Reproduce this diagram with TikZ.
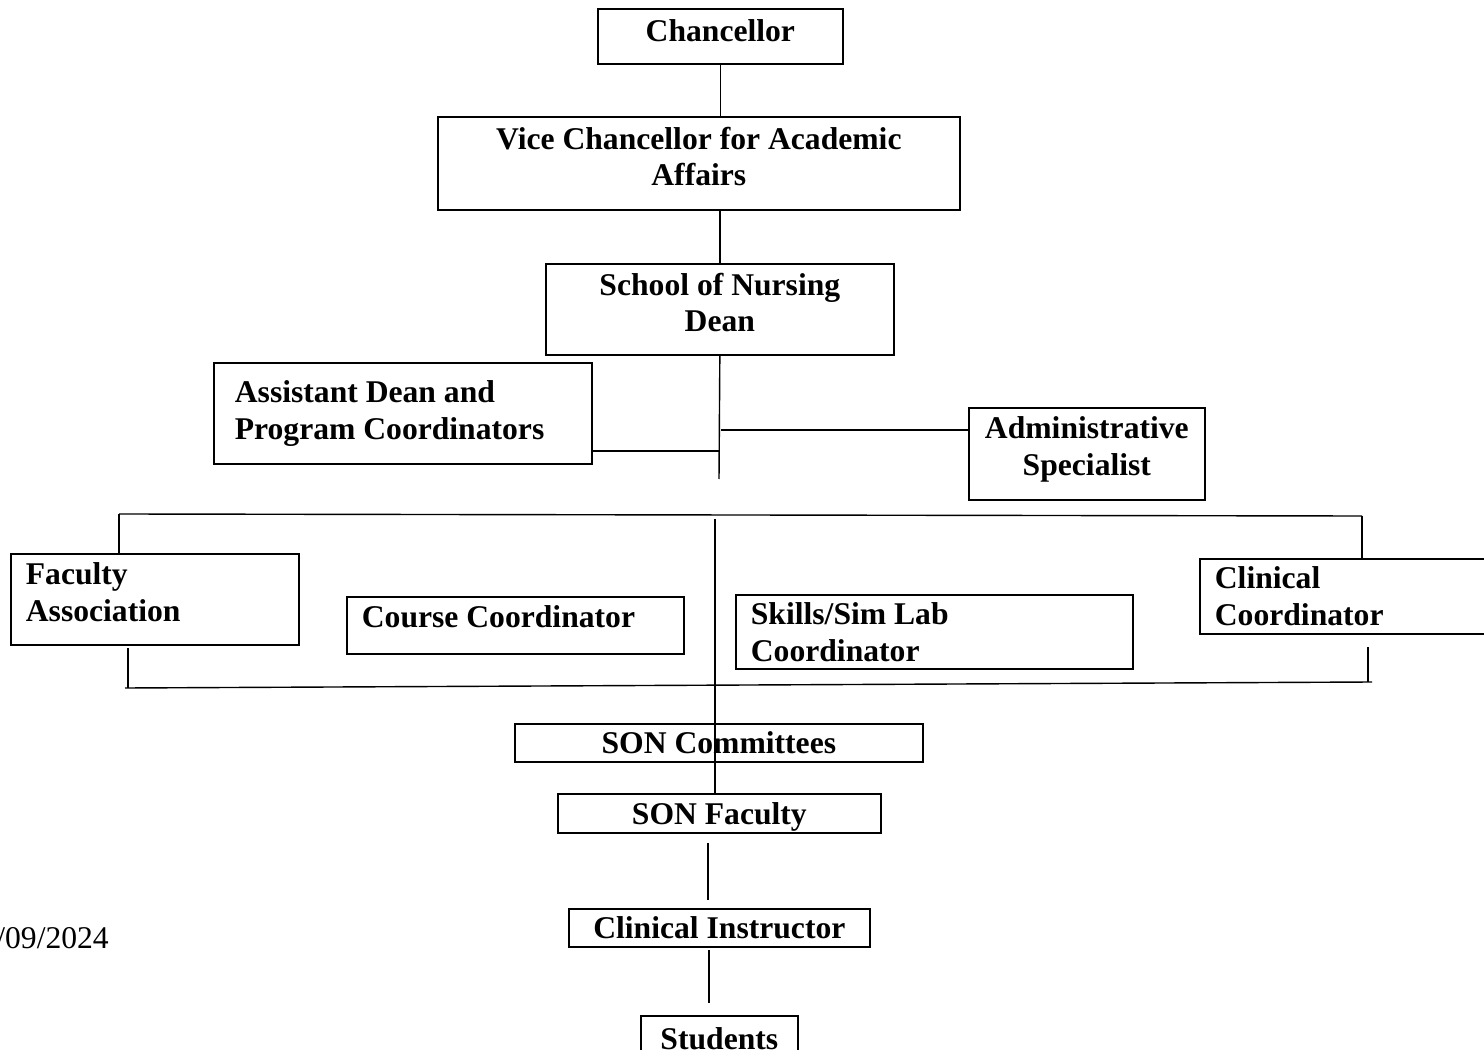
\documentclass[tikz,border=0pt]{standalone}
\usepackage{fontspec}
\setmainfont{Liberation Serif}

\begin{document}
\begin{tikzpicture}[
        x=0.02cm, y=-0.02cm,
        box/.style={draw, line width=1pt, anchor=north west, inner sep=0pt,
            font=\fontsize{18}{21}\selectfont\bfseries, align=center},
        lbox/.style={box, align=flush left, inner xsep=0.3cm},
        link/.style={line width=0.8pt},
    ]

    \useasboundingbox (0,0) rectangle (1484,1050);

    % upper chain
    \node[box, minimum width=4.9cm, minimum height=1.1cm, text depth=0.24cm] (chancellor) at (597,8) {Chancellor};
    \node[box, minimum width=10.44cm, minimum height=1.86cm, text depth=0.28cm] (vice) at (437,116) {Vice Chancellor for Academic\\Affairs};
    \node[box, minimum width=6.96cm, minimum height=1.82cm, text depth=0.28cm] (dean) at (545,263) {School of Nursing\\Dean};
    \node[lbox, text width=6.72cm, minimum height=2.02cm, inner xsep=0.42cm] (asst) at (213,362) {Assistant Dean and\\Program Coordinators};
    \node[box, minimum width=4.72cm, minimum height=1.84cm, text depth=0.3cm] (admin) at (968,407) {Administrative\\Specialist};

    % middle row
    \node[lbox, text width=5.16cm, minimum height=1.82cm, text depth=1.04cm] (faculty) at (10,553) {Faculty\\Association};
    \node[lbox, text width=6.14cm, minimum height=1.14cm, text depth=0.36cm] (course) at (346,596) {Course Coordinator};
    \node[lbox, text width=7.34cm, minimum height=1.48cm] (skills) at (735,594) {Skills/Sim Lab\\Coordinator};
    \node[lbox, text width=5.42cm, minimum height=1.5cm] (clinical) at (1199,558) {Clinical\\Coordinator};

    % lower chain
    \node[box, minimum width=8.16cm, minimum height=0.76cm] (committees) at (514,723) {SON Committees};
    \node[box, minimum width=6.46cm, minimum height=0.78cm, text depth=0pt] (sonfac) at (557,793) {SON Faculty};
    \node[box, minimum width=6.02cm, minimum height=0.76cm] (instructor) at (568,908) {Clinical Instructor};
    \node[box, minimum width=3.14cm, minimum height=0.9cm] (students) at (640,1015) {Students};

    \node[anchor=base west, inner sep=0pt, font=\fontsize{18}{21}\selectfont] (date) at (-4,948) {/09/2024};

    \coordinate (stem) at (719,479);
    \coordinate (asstjoin) at (719,451);
    \coordinate (adminjoin) at (721,430);
    \coordinate (busTL) at (119,514);
    \coordinate (busTR) at (1362,516);
    \coordinate (midtop) at (715,519);
    \coordinate (busBL) at (125,688);
    \coordinate (busBR) at (1372,682);
    \coordinate (tickL) at (128,648);
    \coordinate (tickR) at (1368,647);
    \coordinate (facgap) at (708,843);
    \coordinate (instgap) at (709,950);

    \draw[link] (chancellor.south) -- (chancellor.south |- vice.north);
    \draw[link] (dean.north) -- (dean.north |- vice.south);
    \draw[link] (dean.south) -- (stem);
    \draw[link] (asstjoin -| asst.east) -- (asstjoin);
    \draw[link] (adminjoin) -- (adminjoin -| admin.west);

    \draw[link] (busTL) -- (busTR);
    \draw[link] (busTL) -- (busTL |- faculty.north);
    \draw[link] (busTR) -- (busTR |- clinical.north);
    \draw[link] (midtop) -- (midtop |- sonfac.north);
    \draw[link] (busBL) -- (busBR);
    \draw[link] (tickL) -- (tickL |- busBL);
    \draw[link] (tickR) -- (tickR |- busBR);

    \draw[link, shorten >=0.16cm] (facgap) -- (facgap |- instructor.north);
    \draw[link, shorten >=0.24cm] (instgap) -- (instgap |- students.north);

\end{tikzpicture}
\end{document}
